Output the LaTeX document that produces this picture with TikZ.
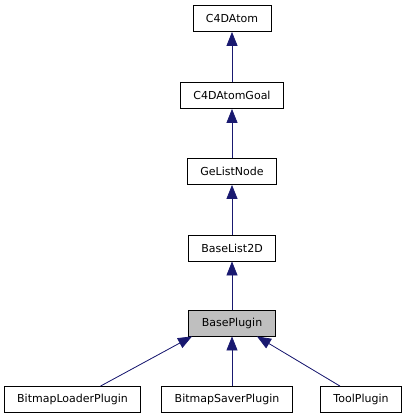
\documentclass[tikz,border=0pt]{standalone}
\usepackage{fontspec}
\setmainfont{DejaVu Sans}
\usetikzlibrary{arrows.meta}
\definecolor{edgeblue}{RGB}{25,25,112}
\def\chainx{232}

\begin{document}
\begin{tikzpicture}[x=1pt,y=-1pt,draw=edgeblue,
        ->,>={Triangle[length=14pt,width=11pt]}]
        \tikzstyle{cls}=[draw=black,thick,fill=white,font=\fontsize{11}{13}\selectfont,
            inner xsep=13pt,minimum height=26pt,inner ysep=0pt]
        \tikzstyle{current cls}=[cls, fill=black!25];
        \tikzstyle{link}=[draw=edgeblue,fill=edgeblue,thick];

        \useasboundingbox (0,0) rectangle (409,419);

        % Draw the chain of base classes
        \foreach \name / \txt / \y in {A/C4DAtom/18.5, G/C4DAtomGoal/95.5,
                L/GeListNode/171.5, B/BaseList2D/248}
        \node[cls] (\name) at (\chainx,\y) {\txt};

        % Draw the documented class
        \node[current cls] (P) at (\chainx,323) {BasePlugin};

        % Draw the derived classes
        \foreach \name / \txt / \x in {D1/BitmapLoaderPlugin/72.5,
                D2/BitmapSaverPlugin/227, D3/ToolPlugin/361}
        \node[cls] (\name) at (\x,399.5) {\txt};

        % Connect each class with its base class
        \foreach \child / \parent in {G/A, L/G, B/L, P/B}
        \draw[link] (\child.north) -- (\parent.south);

        % Connect the derived classes with BasePlugin
        \draw[link] ([xshift=28pt]D1.north) -- ([xshift=-40pt]P.south);
        \draw[link] ([xshift=5pt]D2.north) -- (P.south);
        \draw[link] ([xshift=-21pt]D3.north) -- ([xshift=25pt]P.south);
    \end{tikzpicture}
\end{document}
